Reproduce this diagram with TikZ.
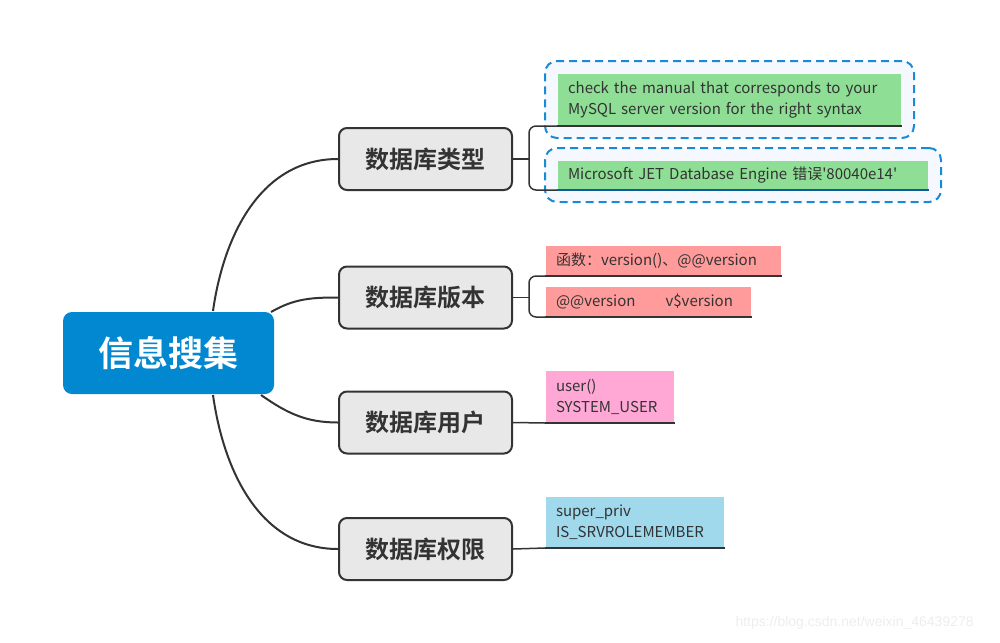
\documentclass[tikz,border=0pt]{standalone}
\usepackage{fontspec}
\setmainfont{Noto Sans CJK SC}[BoldFont={Noto Sans CJK SC Bold}]
\newfontfamily\urlfont{Liberation Sans}
\usetikzlibrary{positioning,fit,backgrounds}
\definecolor{rootblue}{HTML}{0288D1}
\definecolor{topicgray}{HTML}{E8E8E8}
\definecolor{linegray}{HTML}{333333}
\definecolor{leafgreen}{HTML}{8FDE96}
\definecolor{leafred}{HTML}{FF9B9B}
\definecolor{leafpink}{HTML}{FFA8D6}
\definecolor{leafblue}{HTML}{A0D9EC}
\definecolor{dashblue}{HTML}{1A8AD4}
\definecolor{dashfill}{HTML}{F5F9FF}
\definecolor{ulineblue}{HTML}{0D5A9E}

\begin{document}
\begin{tikzpicture}[x=1pt,y=1pt,draw=linegray,line width=2pt]
      \tikzstyle{root}=[rectangle,rounded corners=9pt,fill=rootblue,text=white,
                        font=\fontsize{35}{40}\selectfont\bfseries,minimum width=211pt,minimum height=82pt]
      \tikzstyle{topic}=[rectangle,rounded corners=8pt,draw=linegray,fill=topicgray,text=linegray,
                         font=\fontsize{24}{28}\selectfont\bfseries,minimum width=173pt,minimum height=62pt]
      \tikzstyle{leaf}=[rectangle,anchor=south west,inner xsep=10pt,inner ysep=0pt,align=left,
                        text=linegray,font=\fontsize{15}{21}\selectfont]
      \tikzstyle{dashbox}=[rectangle,rounded corners=12pt,draw=dashblue,line width=2pt,
                           dash pattern=on 8pt off 5pt,fill=dashfill,inner sep=12pt]
      \tikzstyle{bracket}=[draw=linegray,line width=1.5pt,rounded corners=7pt]

      \useasboundingbox (0,0) rectangle (1000,-642);

      \node[root]  (info) at (168.5,-353)   {信息搜集};
      \node[topic] (type) at (425.5,-159)   {数据库类型};
      \node[topic] (ver)  at (425.5,-297.5) {数据库版本};
      \node[topic] (user) at (425.5,-422.5) {数据库用户};
      \node[topic] (priv) at (425.5,-549)   {数据库权限};

      % leaves
      \node[leaf,fill=leafgreen,text width=323pt,minimum height=51pt] (err1) at (557,-126)
            {check the manual that corresponds to your\\MySQL server version for the right syntax};
      \node[leaf,fill=leafgreen,text width=350pt,minimum height=28pt] (err2) at (557,-190)
            {Microsoft JET Database Engine 错误\textquotesingle 80040e14\textquotesingle};
      \node[leaf,fill=leafred,text width=215pt,minimum height=29pt] (fn1) at (545,-276)
            {函数：version()、@@version};
      \node[leaf,fill=leafred,text width=185pt,minimum height=29pt] (fn2) at (545,-317)
            {@@version\hspace{30pt}v\$version};
      \node[leaf,fill=leafpink,text width=108pt,minimum height=51pt] (usr) at (545,-423)
            {user()\\SYSTEM\_USER};
      \node[leaf,fill=leafblue,text width=158pt,minimum height=50pt] (prv) at (545,-548)
            {super\_priv\\IS\_SRVROLEMEMBER};

      \node[anchor=east,text=black!7,font=\urlfont\fontsize{14}{16}\selectfont] (mark) at (978,-623)
            {https://blog.csdn.net/weixin\_46439278};

      \coordinate (r1) at ([xshift=-62]info.north east);
      \coordinate (r2) at ([xshift=-4,yshift=-1]info.north east);
      \coordinate (r3) at ([xshift=-14]info.south east);
      \coordinate (r4) at ([xshift=-62]info.south east);
      \coordinate (j1) at ([xshift=16]type.east);
      \coordinate (j2) at ([xshift=16]ver.east);

      \begin{scope}[on background layer]
        \node[dashbox,fit=(err1)] (box1) {};
        \node[dashbox,fit=(err2)] (box2) {};
        \path[draw=linegray,line width=2pt]
              (r1) edge[out=82,in=180]  (type.west)
              (r2) edge[out=30,in=180]  (ver.west)
              (r3) edge[out=-35,in=180] (user.west)
              (r4) edge[out=-82,in=180] (priv.west);
      \end{scope}

      \draw[linegray,line width=2.5pt] (err1.south west) -- (err1.south east);
      \draw[ulineblue,line width=2.5pt] (err2.south west) -- (err2.south east);
      \draw[linegray,line width=2.5pt] (fn1.south west) -- (fn1.south east);
      \draw[linegray,line width=2.5pt] (fn2.south west) -- (fn2.south east);
      \draw[linegray,line width=2.5pt] (usr.south west) -- (usr.south east);
      \draw[linegray,line width=2.5pt] (prv.south west) -- (prv.south east);

      \draw[bracket] (err1.south west) -| (j1) |- (err2.south west);
      \draw[bracket] (fn1.south west) -| (j2) |- (fn2.south west);
      \draw[line width=1.5pt] (type.east) -- (j1);
      \draw[line width=1.5pt] (ver.east) -- (j2);
      \draw[line width=1.5pt] (user.east) -- (usr.south west);
      \draw[line width=1.5pt] (priv.east) -- (prv.south west);
\end{tikzpicture}
\end{document}
